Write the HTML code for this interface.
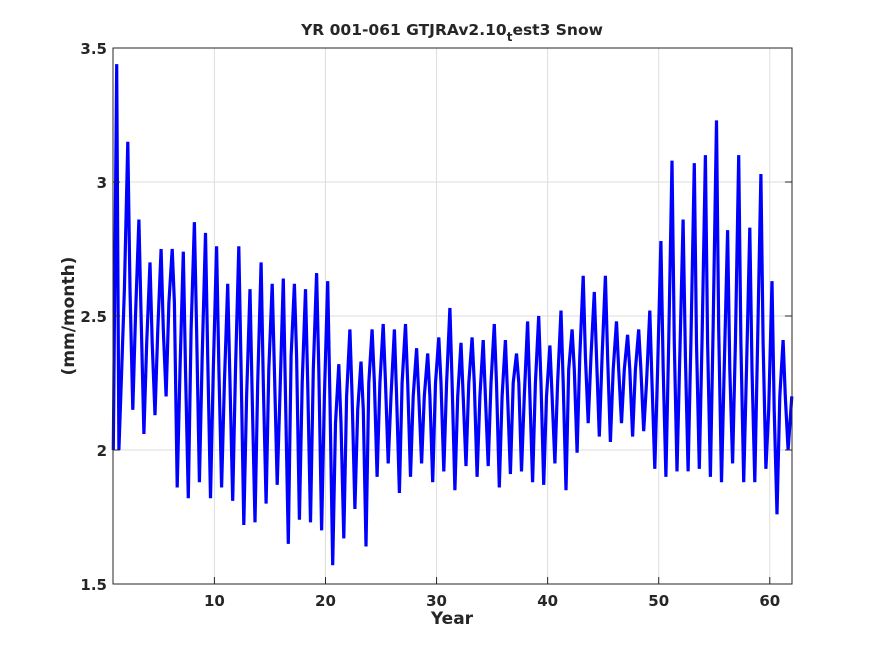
<!DOCTYPE html>
<html><head><meta charset="utf-8"><style>
body{margin:0;background:#fff;}
svg text{font-family:"DejaVu Sans","Liberation Sans",sans-serif;font-weight:bold;fill:#262626;}
</style></head><body>
<svg id="chart" width="875" height="656" xmlns="http://www.w3.org/2000/svg">
<rect width="875" height="656" fill="#fff"/>
<rect x="113" y="48" width="679" height="536" fill="#fff"/>
<g id="grid"></g>
<g id="series"></g>
<rect x="113" y="48" width="679" height="536" fill="none" stroke="#262626" stroke-width="1"/>
<g id="ticks"></g>
<text x="452" y="35" text-anchor="middle" font-size="15.5">YR 001-061 GTJRAv2.10<tspan dy="6" font-size="12">t</tspan><tspan dy="-6">est3 Snow</tspan></text>
<text x="452" y="624" text-anchor="middle" font-size="17">Year</text>
<text transform="translate(74,316) rotate(-90)" text-anchor="middle" font-size="17">(mm/month)</text>
</svg>
<script>
const xTicks=[10,20,30,40,50,60];
const yTicks=[1.5,2,2.5,3,3.5];
const yTickLabels=["1.5","2","2.5","3","3.5"];
const peaks=[3.44,3.15,2.86,2.70,2.75,2.75,2.74,2.85,2.81,2.76,2.62,2.76,2.60,2.70,2.62,2.64,2.62,2.60,2.66,2.63,2.32,2.45,2.33,2.45,2.47,2.45,2.47,2.38,2.36,2.42,2.53,2.40,2.42,2.41,2.47,2.41,2.36,2.48,2.50,2.39,2.52,2.45,2.65,2.59,2.65,2.48,2.43,2.45,2.52,2.78,3.08,2.86,3.07,3.10,3.23,2.82,3.10,2.83,3.03,2.63,2.41];
const troughs=[2.30,2.15,2.06,2.13,2.20,1.86,1.82,1.88,1.82,1.86,1.81,1.72,1.73,1.80,1.87,1.65,1.74,1.73,1.70,1.57,1.67,1.78,1.64,1.90,1.95,1.84,1.90,1.95,1.88,1.92,1.85,1.94,1.90,1.94,1.86,1.91,1.92,1.88,1.87,1.95,1.85,1.99,2.10,2.05,2.03,2.10,2.05,2.07,1.93,1.90,1.92,1.92,1.93,1.90,1.88,1.95,1.88,1.88,1.93,1.76,2.00];
const mids=[2.00,2.60,2.50,2.40,2.45,2.55,2.30,2.45,2.35,2.30,2.25,2.30,2.20,2.25,2.30,2.20,2.35,2.25,2.30,2.20,2.10,2.20,2.15,2.25,2.25,2.20,2.25,2.20,2.20,2.25,2.25,2.20,2.25,2.20,2.25,2.20,2.25,2.20,2.25,2.20,2.25,2.30,2.35,2.35,2.35,2.30,2.30,2.30,2.25,2.30,2.40,2.35,2.40,2.40,2.45,2.30,2.40,2.30,2.40,2.15,2.20];
const lastValue=2.20;
const X0=0.87,X1=62.0,Y0=1.5,Y1=3.5,L=113,R=792,T=48,B=584;
const xs=v=>L+(v-X0)/(X1-X0)*(R-L);
const ys=v=>B-(v-Y0)/(Y1-Y0)*(B-T);
const NS="http://www.w3.org/2000/svg";
const grid=document.getElementById('grid'),ticks=document.getElementById('ticks'),series=document.getElementById('series');
function mk(tag,attrs,parent){const e=document.createElementNS(NS,tag);for(const k in attrs)e.setAttribute(k,attrs[k]);parent.appendChild(e);return e;}
xTicks.forEach(t=>{
  const x=xs(t);
  const g=mk('line',{x1:x,x2:x,y1:T,y2:B,stroke:'#dedede','stroke-width':1},grid);
  
  
  const tk=mk('line',{x1:x,x2:x,y1:B,y2:B-7,stroke:'#262626'},ticks);
  
  
  const lb=mk('text',{x:x,y:B+22,'text-anchor':'middle','font-size':15},ticks);
  lb.textContent=String(t);
  
  
});
yTicks.forEach((t,i)=>{
  const y=ys(t);
  const g=mk('line',{x1:L,x2:R,y1:y,y2:y,stroke:'#dedede','stroke-width':1},grid);
  
  
  const tk=mk('line',{x1:L,x2:L+7,y1:y,y2:y,stroke:'#262626'},ticks);
  
  
  const tk2=mk('line',{x1:R,x2:R-7,y1:y,y2:y,stroke:'#262626'},ticks);
  
  
  const lb=mk('text',{x:L-6,y:y+6,'text-anchor':'end','font-size':15},ticks);
  lb.textContent=yTickLabels[i];
  
  
});
const pts=[];
for(let i=0;i<peaks.length;i++){
  const b=X0+0.03+i;
  pts.push([b,mids[i]]);
  pts.push([b+0.3,peaks[i]]);
  pts.push([b+0.5,mids[i]]);
  pts.push([b+0.75,troughs[i]]);
}
pts.push([X1-0.02,lastValue]);
const d=pts.map((p,i)=>(i?'L':'M')+xs(p[0]).toFixed(1)+' '+ys(p[1]).toFixed(1)).join(' ');
const line=mk('path',{d:d,fill:'none',stroke:'#0000ff','stroke-width':3.2,'stroke-linejoin':'miter'},series);


</script>
</body></html>
